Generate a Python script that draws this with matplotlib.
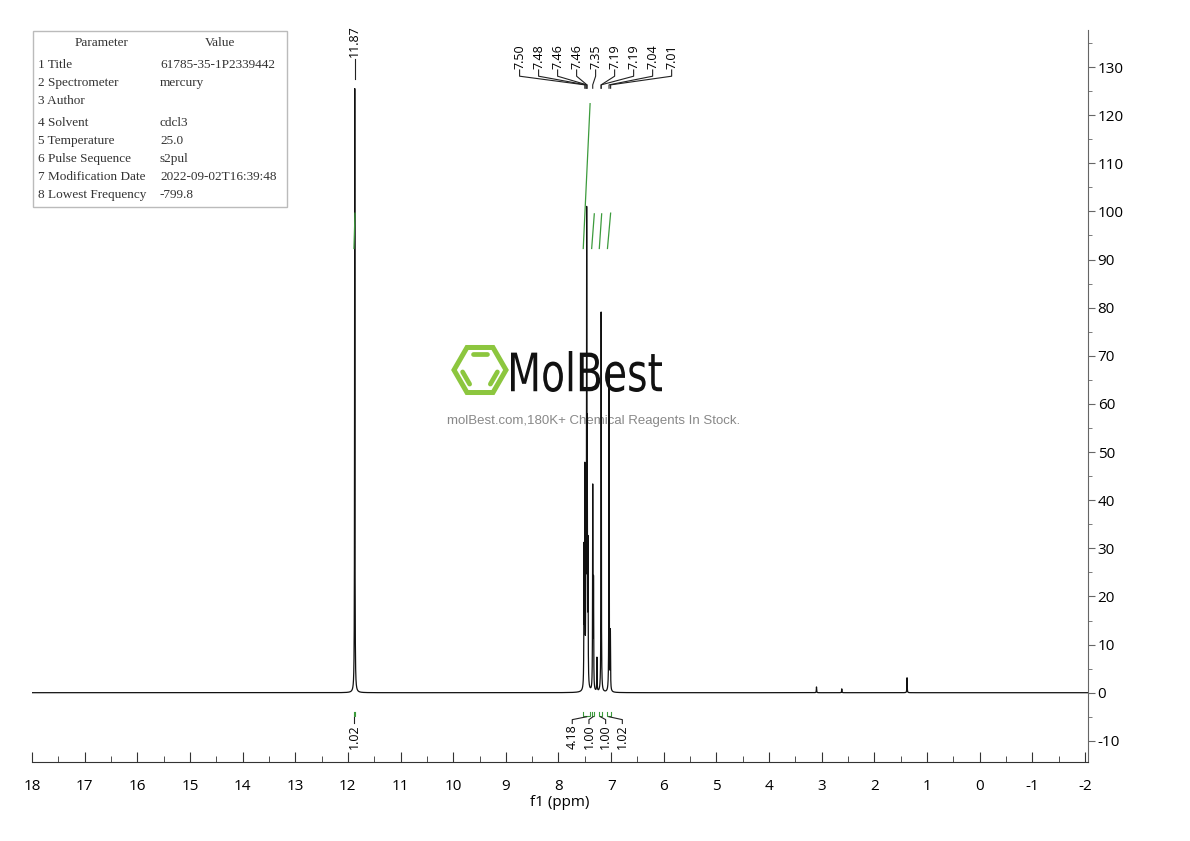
import numpy as np
import matplotlib.pyplot as plt
from matplotlib.patches import RegularPolygon, PathPatch, Rectangle
from matplotlib.textpath import TextPath
from matplotlib.font_manager import FontProperties
import matplotlib.transforms as mtransforms
from matplotlib.ticker import MultipleLocator

plt.rcParams['axes.unicode_minus'] = False
plt.rcParams['font.family'] = ['Open Sans', 'DejaVu Sans']

# peak list (ppm, height)
peak_ppm = [11.87, 7.515, 7.50, 7.48, 7.465, 7.455, 7.44, 7.35, 7.335, 7.27, 7.19, 7.04, 7.015, 3.10, 2.62, 1.38]
peak_height = [126, 28, 44, 38, 93, 45, 28, 42, 22, 7, 79, 67, 12, 1.2, 0.8, 3.1]
peak_hwhm = 0.0035

# peak labels at the top
label_group1 = ['11.87']
label_group1_ppm = [11.87]
label_group2 = ['7.50', '7.48', '7.46', '7.46', '7.35', '7.19', '7.19', '7.04', '7.01']
label_group2_ppm = [7.50, 7.48, 7.46, 7.46, 7.35, 7.19, 7.19, 7.04, 7.01]

# integrals
int_start = [11.885, 7.53, 7.37, 7.225, 7.07]
int_end = [11.865, 7.40, 7.32, 7.18, 7.01]
int_value = [1.02, 4.18, 1.00, 1.00, 1.02]

# acquisition parameters
param_names = ['1 Title', '2 Spectrometer', '3 Author', '4 Solvent', '5 Temperature',
               '6 Pulse Sequence', '7 Modification Date', '8 Lowest Frequency']
param_values = ['61785-35-1P2339442', 'mercury', '', 'cdcl3', '25.0', 's2pul',
                '2022-09-02T16:39:48', '-799.8']

ppm = np.linspace(18.3, -2.3, 41001)
spec = np.zeros_like(ppm)
for p, h in zip(peak_ppm, peak_height):
    spec += h * peak_hwhm**2 / ((ppm - p)**2 + peak_hwhm**2)

fig = plt.figure(figsize=(11.9, 8.41), dpi=100)

# background overlay in pixel coordinates (table + watermark)
bg = fig.add_axes([0, 0, 1, 1])
bg.set_xlim(0, 1190)
bg.set_ylim(841, 0)
bg.axis('off')
bg.set_zorder(0)

bg.add_patch(Rectangle((33, 31), 254, 176, fill=False, edgecolor='#bbbbbb', lw=1))
tfont = dict(family=['Liberation Serif', 'DejaVu Serif'], fontsize=9.5, color='#333333', va='center')
bg.text(102, 43, 'Parameter', ha='center', **tfont)
bg.text(220, 43, 'Value', ha='center', **tfont)
row_y = [65, 83, 101, 123, 141, 159, 177, 195]
for yy, n, v in zip(row_y, param_names, param_values):
    bg.text(38, yy, n, ha='left', **tfont)
    bg.text(160, yy, v, ha='left', **tfont)

# MolBest logo
green = '#8cc63e'
cx, cy, r = 480, 370, 26
bg.add_patch(RegularPolygon((cx, cy), 6, radius=r, orientation=np.pi / 6,
                            fill=False, edgecolor=green, lw=3.6))
r_in = 18.5
for a0 in [60, 180, 300]:
    a1 = np.radians(a0); a2 = np.radians(a0 + 60)
    p1 = np.array([cx + r_in * np.cos(a1), cy - r_in * np.sin(a1)])
    p2 = np.array([cx + r_in * np.cos(a2), cy - r_in * np.sin(a2)])
    q1 = p1 + 0.12 * (p2 - p1); q2 = p1 + 0.88 * (p2 - p1)
    bg.plot([q1[0], q2[0]], [q1[1], q2[1]], color=green, lw=3.4, solid_capstyle='round')

tp = TextPath((0, 0), 'MolBest', size=50,
              prop=FontProperties(family=['Liberation Sans Narrow', 'DejaVu Sans']))
ext = tp.get_extents()
sx = (662 - 511) / ext.width
sy = (392 - 351) / ext.height
tr = mtransforms.Affine2D().translate(-ext.x0, -ext.y0).scale(sx, -sy).translate(511, 392)
bg.add_patch(PathPatch(tr.transform_path(tp), facecolor='#111111', edgecolor='none'))
bg.text(594, 421, 'molBest.com,180K+ Chemical Reagents In Stock.', ha='center', va='center',
        fontsize=9.5, color='#888888', family=['Liberation Sans', 'DejaVu Sans'])

# main spectrum axes
ax = fig.add_axes([32 / 1190, 1 - 762 / 841, 1056 / 1190, 732 / 841])
ax.set_zorder(1)
ax.patch.set_visible(False)
ax.plot(ppm, spec, color='#111111', lw=0.9)
ax.set_xlim(18, -2.057)
ax.set_ylim(-14.4, 137.7)

for s in ['top', 'left']:
    ax.spines[s].set_visible(False)
ax.spines['right'].set_color('#666666')
ax.spines['bottom'].set_color('#333333')
ax.xaxis.set_major_locator(MultipleLocator(1))
ax.xaxis.set_minor_locator(MultipleLocator(0.5))
ax.yaxis.tick_right()
ax.yaxis.set_minor_locator(MultipleLocator(5))
ax.set_yticks(np.arange(-10, 131, 10))
ax.tick_params(axis='x', which='major', direction='in', length=7, pad=12, labelsize=11, color='#333333')
ax.tick_params(axis='x', which='minor', direction='in', length=4, color='#333333')
ax.tick_params(axis='y', which='major', direction='out', length=5, pad=2, labelsize=11, color='#666666')
ax.tick_params(axis='y', which='minor', direction='out', length=3, color='#666666')
ax.set_xlabel('f1 (ppm)', fontsize=11, labelpad=1)

# integral curves
igreen = '#3c9b3c'
base = 92.3
for s, e, v in zip(int_start, int_end, int_value):
    ax.plot([s, e], [base, base + 7.2 * v], color=igreen, lw=0.9)

# integral markers + labels under the baseline
tfs = 9
centers = [(s + e) / 2 for s, e in zip(int_start, int_end)]
for s, e in zip(int_start, int_end):
    ax.plot([s, s, e, e], [-4.0, -4.8, -4.8, -4.0], color=igreen, lw=0.8)
ax.plot([centers[0], centers[0]], [-5.0, -6.3], color='#222222', lw=0.8)
ax.text(centers[0], -6.6, f'{int_value[0]:.2f}', rotation=90, ha='center', va='top', fontsize=tfs)
grp = centers[1:]
gmid = np.mean(grp)
step = 0.317
for i, (c, v) in enumerate(zip(grp, int_value[1:])):
    lx = gmid + (len(grp) - 1) / 2 * step - i * step
    ax.plot([c, lx, lx], [-5.0, -5.6, -6.4], color='#222222', lw=0.8)
    ax.text(lx, -6.6, f'{v:.2f}', rotation=90, ha='center', va='top', fontsize=tfs)

# peak labels on top
for lab, p in zip(label_group1, label_group1_ppm):
    ax.plot([p, p], [127.6, 131.6], color='#222222', lw=0.8)
    ax.text(p, 132.0, lab, rotation=90, ha='center', va='bottom', fontsize=tfs)
mid = np.mean([label_group2_ppm[0], label_group2_ppm[-1]]) + 0.04
step2 = 0.361
n2 = len(label_group2)
for i, (lab, p) in enumerate(zip(label_group2, label_group2_ppm)):
    lx = mid + (n2 - 1) / 2 * step2 - i * step2
    ax.plot([lx, lx, p, p], [129.4, 128.1, 126.3, 125.6], color='#222222', lw=0.8)
    ax.text(lx, 129.7, lab, rotation=90, ha='center', va='bottom', fontsize=tfs)

fig.savefig('out.png', dpi=100)
